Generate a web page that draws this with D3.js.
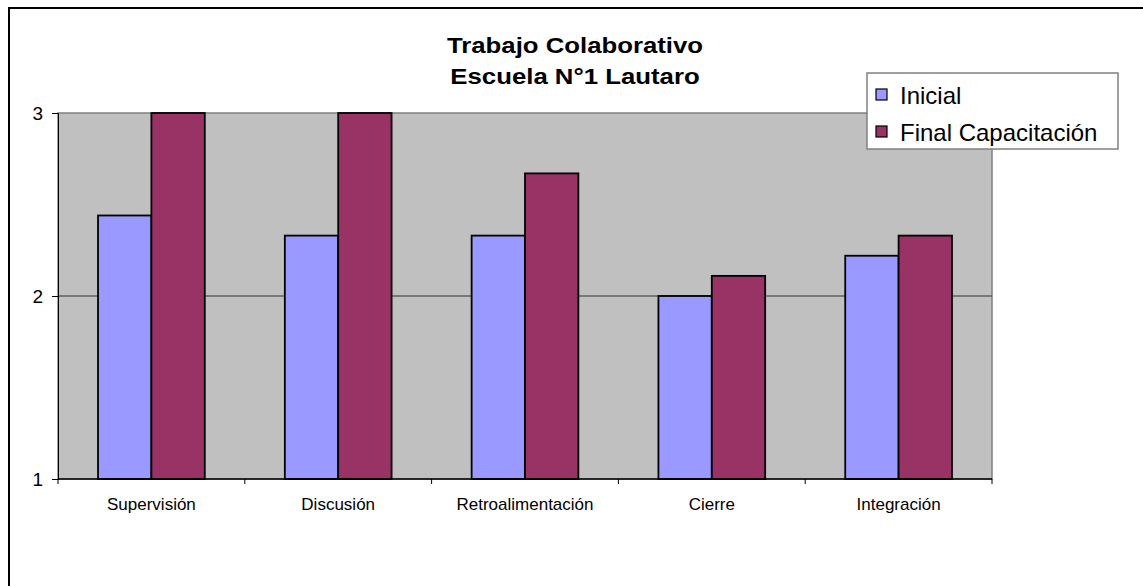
<!DOCTYPE html>
<html>
<head>
<meta charset="utf-8">
<script src="https://cdn.jsdelivr.net/npm/d3@7"></script>
<style>
  html, body { margin: 0; padding: 0; background: #fff; }
  svg { display: block; }
  text { font-family: "Liberation Sans", Arial, sans-serif; }
</style>
</head>
<body>
<svg id="chart" width="1143" height="586"></svg>
<script>
const categories = ["Supervisión", "Discusión", "Retroalimentación", "Cierre", "Integración"];
const seriesNames = ["Inicial", "Final Capacitación"];
const inicial = [2.44, 2.33, 2.33, 2.0, 2.22];
const finalCap = [3.0, 3.0, 2.67, 2.11, 2.33];
const yTicks = [1, 2, 3];
const titleLines = ["Trabajo Colaborativo", "Escuela N°1 Lautaro"];
const colors = ["#9999FF", "#993366"];

const svg = d3.select("#chart");
const plot = { left: 58, right: 992, top: 113, bottom: 479 };

// outer chart border (only top & left visible in the photo)
svg.append("rect")
  .attr("x", 9).attr("y", 8)
  .attr("width", 1160).attr("height", 620)
  .attr("fill", "#fff").attr("stroke", "#000").attr("stroke-width", 2);

const gap = 1.5; // Excel gap width 150%
const pIn = gap / (2 + gap);
const x = d3.scaleBand().domain(categories)
  .range([plot.left, plot.right])
  .paddingInner(pIn).paddingOuter(pIn / 2);
const xs = d3.scaleBand().domain(seriesNames).range([0, x.bandwidth()]);
const y = d3.scaleLinear().domain([1, 3]).range([plot.bottom, plot.top]);

// plot background
svg.append("rect")
  .attr("x", plot.left).attr("y", plot.top)
  .attr("width", plot.right - plot.left).attr("height", plot.bottom - plot.top)
  .attr("fill", "#C0C0C0").attr("stroke", "#808080").attr("stroke-width", 1.5);

// gridlines
svg.append("g").selectAll("line")
  .data(yTicks.filter(t => t > 1 && t < 3))
  .join("line")
  .attr("x1", plot.left).attr("x2", plot.right)
  .attr("y1", d => y(d)).attr("y2", d => y(d))
  .attr("stroke", "#333").attr("stroke-width", 1);

// bars
const data = categories.map((c, i) => ({ c, vals: [inicial[i], finalCap[i]] }));
const groups = svg.append("g").selectAll("g").data(data).join("g")
  .attr("transform", d => `translate(${x(d.c)},0)`);
groups.selectAll("rect")
  .data(d => d.vals.map((v, j) => ({ v, s: seriesNames[j], j })))
  .join("rect")
  .attr("x", d => xs(d.s))
  .attr("width", xs.bandwidth())
  .attr("y", d => y(d.v))
  .attr("height", d => y(1) - y(d.v))
  .attr("fill", d => colors[d.j])
  .attr("stroke", "#000").attr("stroke-width", 1.8);

// y axis
const yAxis = d3.axisLeft(y).tickValues(yTicks).tickFormat(d3.format("d")).tickSize(6).tickPadding(9);
const gy = svg.append("g").attr("transform", `translate(${plot.left},0)`).call(yAxis);
gy.select(".domain").attr("stroke", "#000").attr("stroke-width", 1);
gy.selectAll(".tick line").attr("stroke", "#000");
gy.selectAll(".tick text").attr("font-size", 19).attr("fill", "#000")
  .style("font-family", '"Liberation Sans", Arial, sans-serif');

// x axis line
svg.append("line")
  .attr("x1", plot.left).attr("x2", plot.right)
  .attr("y1", plot.bottom).attr("y2", plot.bottom)
  .attr("stroke", "#000").attr("stroke-width", 1.5);
// x boundary ticks
const step = x.step();
const boundaries = d3.range(categories.length + 1).map(i => plot.left + i * step);
svg.append("g").selectAll("line").data(boundaries).join("line")
  .attr("x1", d => d).attr("x2", d => d)
  .attr("y1", plot.bottom).attr("y2", plot.bottom + 5)
  .attr("stroke", "#000");
// x labels
svg.append("g").selectAll("text").data(categories).join("text")
  .attr("x", d => x(d) + x.bandwidth() / 2)
  .attr("y", 510)
  .attr("text-anchor", "middle")
  .attr("font-size", 17)
  .attr("fill", "#000")
  .text(d => d);

// title
const cx = 575;
svg.append("g").selectAll("text").data(titleLines).join("text")
  .attr("transform", (d, i) => `translate(${cx},${53 + i * 31}) scale(1.12,1)`)
  .attr("text-anchor", "middle")
  .attr("font-size", 23)
  .attr("font-weight", "bold")
  .attr("fill", "#000")
  .text(d => d);

// legend
const lg = svg.append("g");
lg.append("rect")
  .attr("x", 867).attr("y", 73).attr("width", 251).attr("height", 76)
  .attr("fill", "#fff").attr("stroke", "#808080").attr("stroke-width", 1.5);
const items = lg.selectAll("g.item").data(seriesNames).join("g").attr("class", "item")
  .attr("transform", (d, i) => `translate(876,${89 + i * 37})`);
items.append("rect")
  .attr("width", 11).attr("height", 11)
  .attr("fill", (d, i) => colors[i]).attr("stroke", "#000").attr("stroke-width", 1.2);
items.append("text")
  .attr("x", 24).attr("y", 15)
  .attr("font-size", 24)
  .attr("fill", "#000")
  .text(d => d);
</script>
</body>
</html>
